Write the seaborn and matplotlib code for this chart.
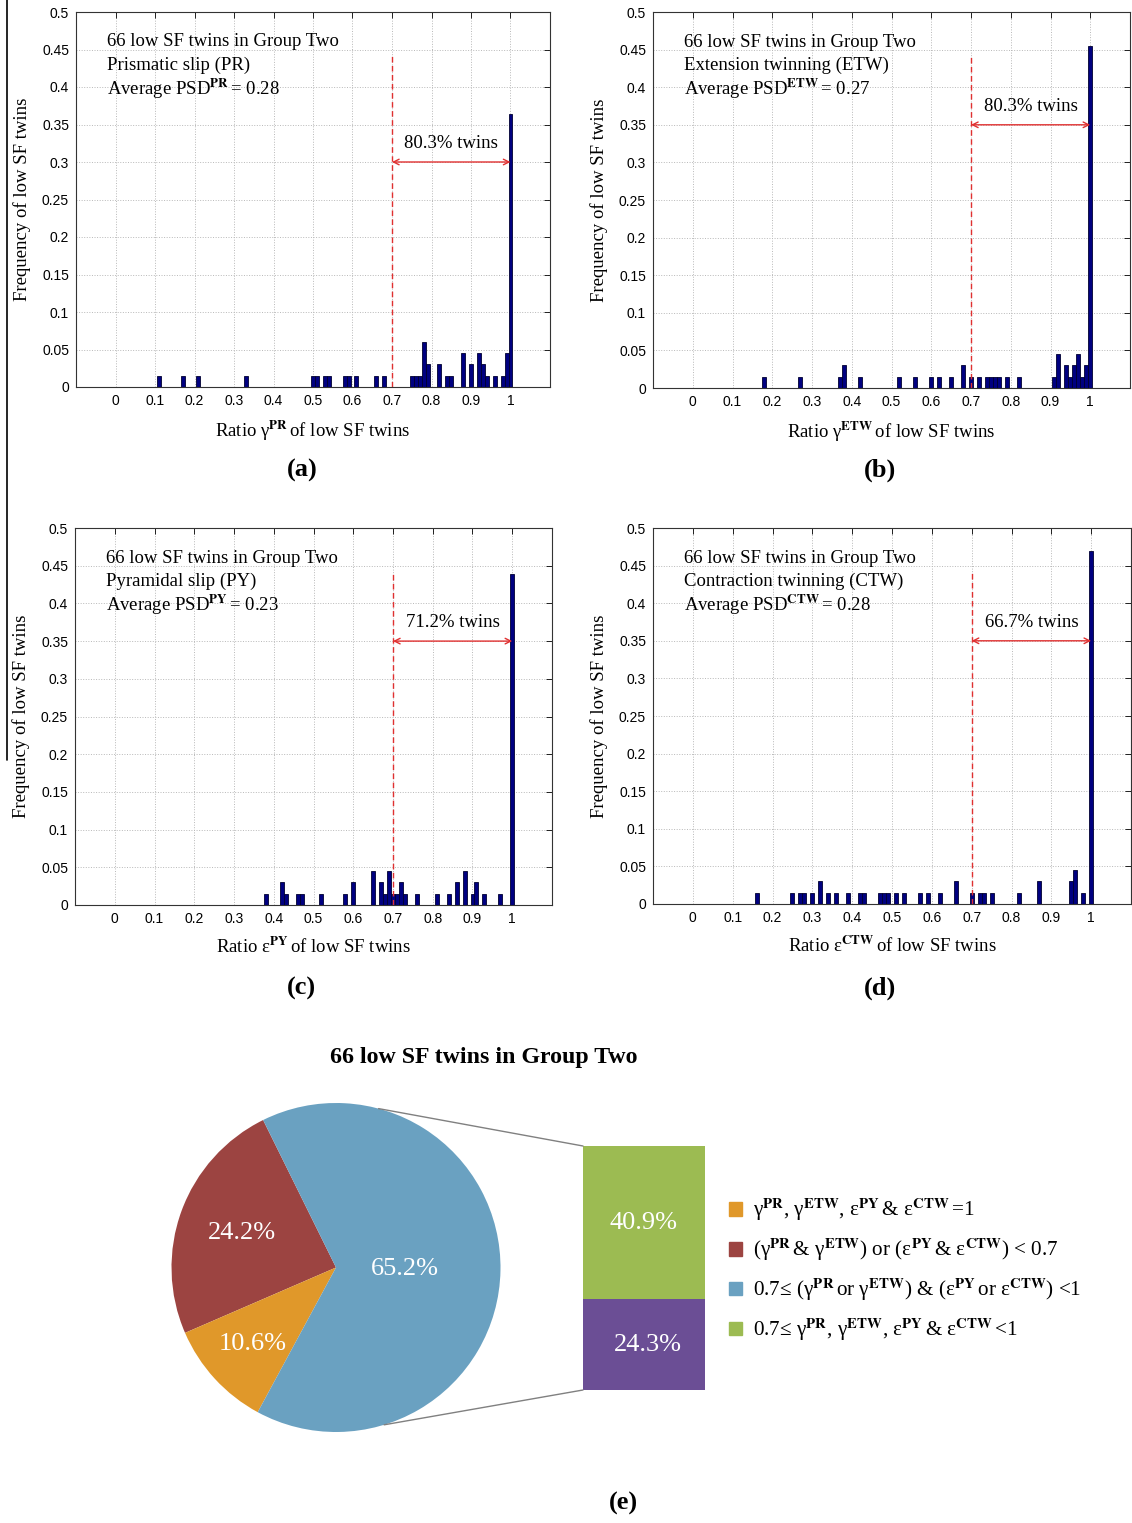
import numpy as np
import pandas as pd
import seaborn as sns
import matplotlib.pyplot as plt
from matplotlib.patches import Patch, ConnectionPatch
from matplotlib.lines import Line2D

sns.set_style("white")
plt.rcParams['font.family'] = ['Liberation Serif', 'DejaVu Serif']
plt.rcParams['mathtext.fontset'] = 'stix'
for k in ['text.color', 'axes.labelcolor', 'xtick.color', 'ytick.color']:
    plt.rcParams[k] = 'black'

N_TWINS = 66

# histogram bins (ratio) and number of twins per bin
pr_ratio = [0.11, 0.17, 0.21, 0.33, 0.50, 0.51, 0.53, 0.54, 0.58, 0.59, 0.61, 0.66, 0.68,
            0.75, 0.76, 0.77, 0.78, 0.79, 0.82, 0.84, 0.85, 0.88, 0.90, 0.92, 0.93, 0.94,
            0.96, 0.98, 0.99, 1.00]
pr_count = [1, 1, 1, 1, 1, 1, 1, 1, 1, 1, 1, 1, 1,
            1, 1, 1, 4, 2, 2, 1, 1, 3, 2, 3, 2, 1, 1, 1, 3, 24]

etw_ratio = [0.18, 0.27, 0.37, 0.38, 0.42, 0.52, 0.56, 0.60, 0.62, 0.65, 0.68,
             0.70, 0.72, 0.74, 0.75, 0.76, 0.77, 0.79, 0.82,
             0.91, 0.92, 0.94, 0.95, 0.96, 0.97, 0.98, 0.99, 1.00]
etw_count = [1, 1, 1, 2, 1, 1, 1, 1, 1, 1, 2,
             1, 1, 1, 1, 1, 1, 1, 1,
             1, 3, 2, 1, 2, 3, 1, 2, 30]

py_ratio = [0.38, 0.42, 0.43, 0.46, 0.47, 0.52, 0.58, 0.60, 0.65, 0.67, 0.68, 0.69,
            0.70, 0.71, 0.72, 0.73, 0.76, 0.81, 0.84, 0.86, 0.88, 0.90, 0.91, 0.93, 0.97, 1.00]
py_count = [1, 2, 1, 1, 1, 1, 1, 2, 3, 2, 1, 3,
            1, 1, 2, 1, 1, 1, 1, 2, 3, 1, 2, 1, 1, 29]

ctw_ratio = [0.16, 0.25, 0.27, 0.28, 0.30, 0.32, 0.34, 0.36, 0.39, 0.42, 0.43, 0.47, 0.48,
             0.49, 0.51, 0.53, 0.57, 0.59, 0.62, 0.66,
             0.70, 0.72, 0.73, 0.75, 0.82, 0.87, 0.95, 0.96, 0.98, 1.00]
ctw_count = [1, 1, 1, 1, 1, 2, 1, 1, 1, 1, 1, 1, 1,
             1, 1, 1, 1, 1, 1, 2,
             1, 1, 1, 1, 1, 2, 2, 3, 1, 31]

panel_names = ['Prismatic slip (PR)', 'Extension twinning (ETW)',
               'Pyramidal slip (PY)', 'Contraction twinning (CTW)']
panel_symbols = ['γ', 'γ', 'ε', 'ε']
panel_modes = ['PR', 'ETW', 'PY', 'CTW']
panel_psd = ['0.28', '0.27', '0.23', '0.28']
panel_pct = ['80.3%', '80.3%', '71.2%', '66.7%']
panel_letters = ['(a)', '(b)', '(c)', '(d)']

# pie (e): red, orange, blue slices and the split of the blue slice
pie_pct = [24.2, 10.6, 65.2]
split_pct = [24.3, 40.9]   # purple (bottom), green (top)

c_red = '#9c4441'
c_orange = '#e0982a'
c_blue = '#6aa1c1'
c_green = '#9cbb52'
c_purple = '#6b4e95'

fig = plt.figure(figsize=(11.32, 15.23), dpi=100)
W, H = 1132, 1523

def px(l, t, r, b):
    return [l / W, 1 - b / H, (r - l) / W, (b - t) / H]

def sup(s, gap=True):
    # bold superscript, optionally followed by a thin space
    return f'$^{{\\mathbf{{{s}}}}}' + ('\\,$' if gap else '$')

boxes = [px(76, 12, 550, 387), px(653, 12, 1130, 388),
         px(75, 528, 552, 905), px(653, 528, 1131, 904)]
arrow_y = [0.30, 0.35, 0.35, 0.35]
letter_pos = [(302, 470), (880, 470), (301, 988), (880, 988)]

datasets = [(pr_ratio, pr_count), (etw_ratio, etw_count),
            (py_ratio, py_count), (ctw_ratio, ctw_count)]
edges = [round(-0.005 + 0.01 * k, 3) for k in range(102)]

for i, (ratio, count) in enumerate(datasets):
    ax = fig.add_axes(boxes[i])
    df = pd.DataFrame({'ratio': ratio, 'freq': np.array(count) / N_TWINS})
    sns.histplot(data=df, x='ratio', weights='freq', bins=edges, ax=ax,
                 color='#000080', edgecolor='#000030', linewidth=0.6, alpha=1)
    ax.set_xlim(-0.1, 1.1)
    ax.set_ylim(0, 0.5)
    xt = np.round(np.arange(0, 1.01, 0.1), 1)
    yt = np.round(np.arange(0, 0.501, 0.05), 2)
    ax.set_xticks(xt, [f'{v:g}' for v in xt], fontfamily='Liberation Sans', fontsize=10)
    ax.set_yticks(yt, [f'{v:g}' for v in yt], fontfamily='Liberation Sans', fontsize=10)
    ax.tick_params(direction='in', top=True, right=True, length=4, width=0.6, pad=5)
    ax.grid(True, ls=':', lw=0.7, color='#b8b8b8')
    ax.set_axisbelow(True)
    for s in ax.spines.values():
        s.set_linewidth(0.8)
        s.set_color('#333333')
    sym, mode = panel_symbols[i], panel_modes[i]
    ax.set_xlabel(f'Ratio {sym}{sup(mode)}of low SF twins', fontsize=13.5, labelpad=8)
    ax.set_ylabel('Frequency of low SF twins', fontsize=13.5, labelpad=8)

    ax.text(-0.022, 0.46, f'{N_TWINS} low SF twins in Group Two', fontsize=13.5, va='center')
    ax.text(-0.022, 0.429, panel_names[i], fontsize=13.5, va='center')
    ax.text(-0.022, 0.398, f'Average PSD{sup(mode)}= {panel_psd[i]}',
            fontsize=13.5, va='center')

    ax.vlines(0.7, 0, 0.443, colors='#e03030', linestyles=(0, (4, 2.5)), lw=1)
    ax.annotate('', xy=(0.7, arrow_y[i]), xytext=(1.0, arrow_y[i]),
                arrowprops=dict(arrowstyle='<->', color='#e03030', lw=1,
                                shrinkA=0, shrinkB=0))
    ax.text(0.85, arrow_y[i] + 0.013, f'{panel_pct[i]} twins', fontsize=13.5,
            ha='center', va='bottom')

    lx, ly = letter_pos[i]
    fig.text(lx / W, 1 - ly / H, panel_letters[i], fontsize=19, fontweight='bold',
             ha='center', va='center')

# pie chart
ax_pie = fig.add_axes(px(171.5, 1103, 500.5, 1432))
wedges, _ = ax_pie.pie(pie_pct, colors=[c_red, c_orange, c_blue], startangle=116.3,
                       counterclock=True, radius=1, wedgeprops=dict(linewidth=0))
ax_pie.set_xlim(-1, 1)
ax_pie.set_ylim(-1, 1)
ax_pie.set_aspect('equal')
for w, pct, r in zip(wedges, pie_pct, [0.61, 0.69, 0.42]):
    ang = np.deg2rad((w.theta1 + w.theta2) / 2)
    ax_pie.text(r * np.cos(ang), r * np.sin(ang), f'{pct}%', color='white',
                fontsize=19, ha='center', va='center')

ax_bar = fig.add_axes(px(583, 1146, 705, 1390))
ax_bar.bar([0], [split_pct[0]], width=1, color=c_purple, linewidth=0)
ax_bar.bar([0], [split_pct[1]], width=1, bottom=[split_pct[0]], color=c_green, linewidth=0)
ax_bar.set_xlim(-0.5, 0.5)
ax_bar.set_ylim(0, sum(split_pct))
ax_bar.axis('off')
ax_bar.text(0, split_pct[0] + split_pct[1] / 2, f'{split_pct[1]}%', color='white',
            fontsize=19, ha='center', va='center')
ax_bar.text(0.03, split_pct[0] / 2, f'{split_pct[0]}%', color='white',
            fontsize=19, ha='center', va='center')

for a, yb in [(75, sum(split_pct)), (-73, 0)]:
    t = np.deg2rad(a)
    con = ConnectionPatch(xyA=(np.cos(t), np.sin(t)), coordsA=ax_pie.transData,
                          xyB=(-0.5, yb), coordsB=ax_bar.transData,
                          color='#808080', lw=1)
    fig.add_artist(con)

fig.text(484 / W, 1 - 1058 / H, f'{N_TWINS} low SF twins in Group Two', fontsize=17.2,
         fontweight='bold', ha='center', va='center')

leg_labels = [
    f'γ{sup("PR", False)}, γ{sup("ETW", False)}, ε{sup("PY")}& ε{sup("CTW")}=1',
    f'(γ{sup("PR")}& γ{sup("ETW", False)}) or (ε{sup("PY")}& ε{sup("CTW", False)}) < 0.7',
    f'0.7≤ (γ{sup("PR")}or γ{sup("ETW", False)}) & (ε{sup("PY")}or ε{sup("CTW", False)}) <1',
    f'0.7≤ γ{sup("PR", False)}, γ{sup("ETW", False)}, ε{sup("PY")}& ε{sup("CTW")}<1',
]
handles = [Patch(color=c) for c in [c_orange, c_red, c_blue, c_green]]
fig.legend(handles, leg_labels, loc='upper left', bbox_to_anchor=(729 / W, 1 - 1197 / H),
           frameon=False, fontsize=15.2, handlelength=0.62, handleheight=0.62,
           handletextpad=0.5, labelspacing=0.64, borderpad=0, borderaxespad=0)

fig.text(623 / W, 1 - 1503 / H, '(e)', fontsize=19, fontweight='bold',
         ha='center', va='center')

# scan edge line on the left of the original figure
fig.add_artist(Line2D([7 / W, 7 / W], [1, 1 - 760 / H], color='black', lw=1.2))

fig.savefig('out.png', dpi=100)
